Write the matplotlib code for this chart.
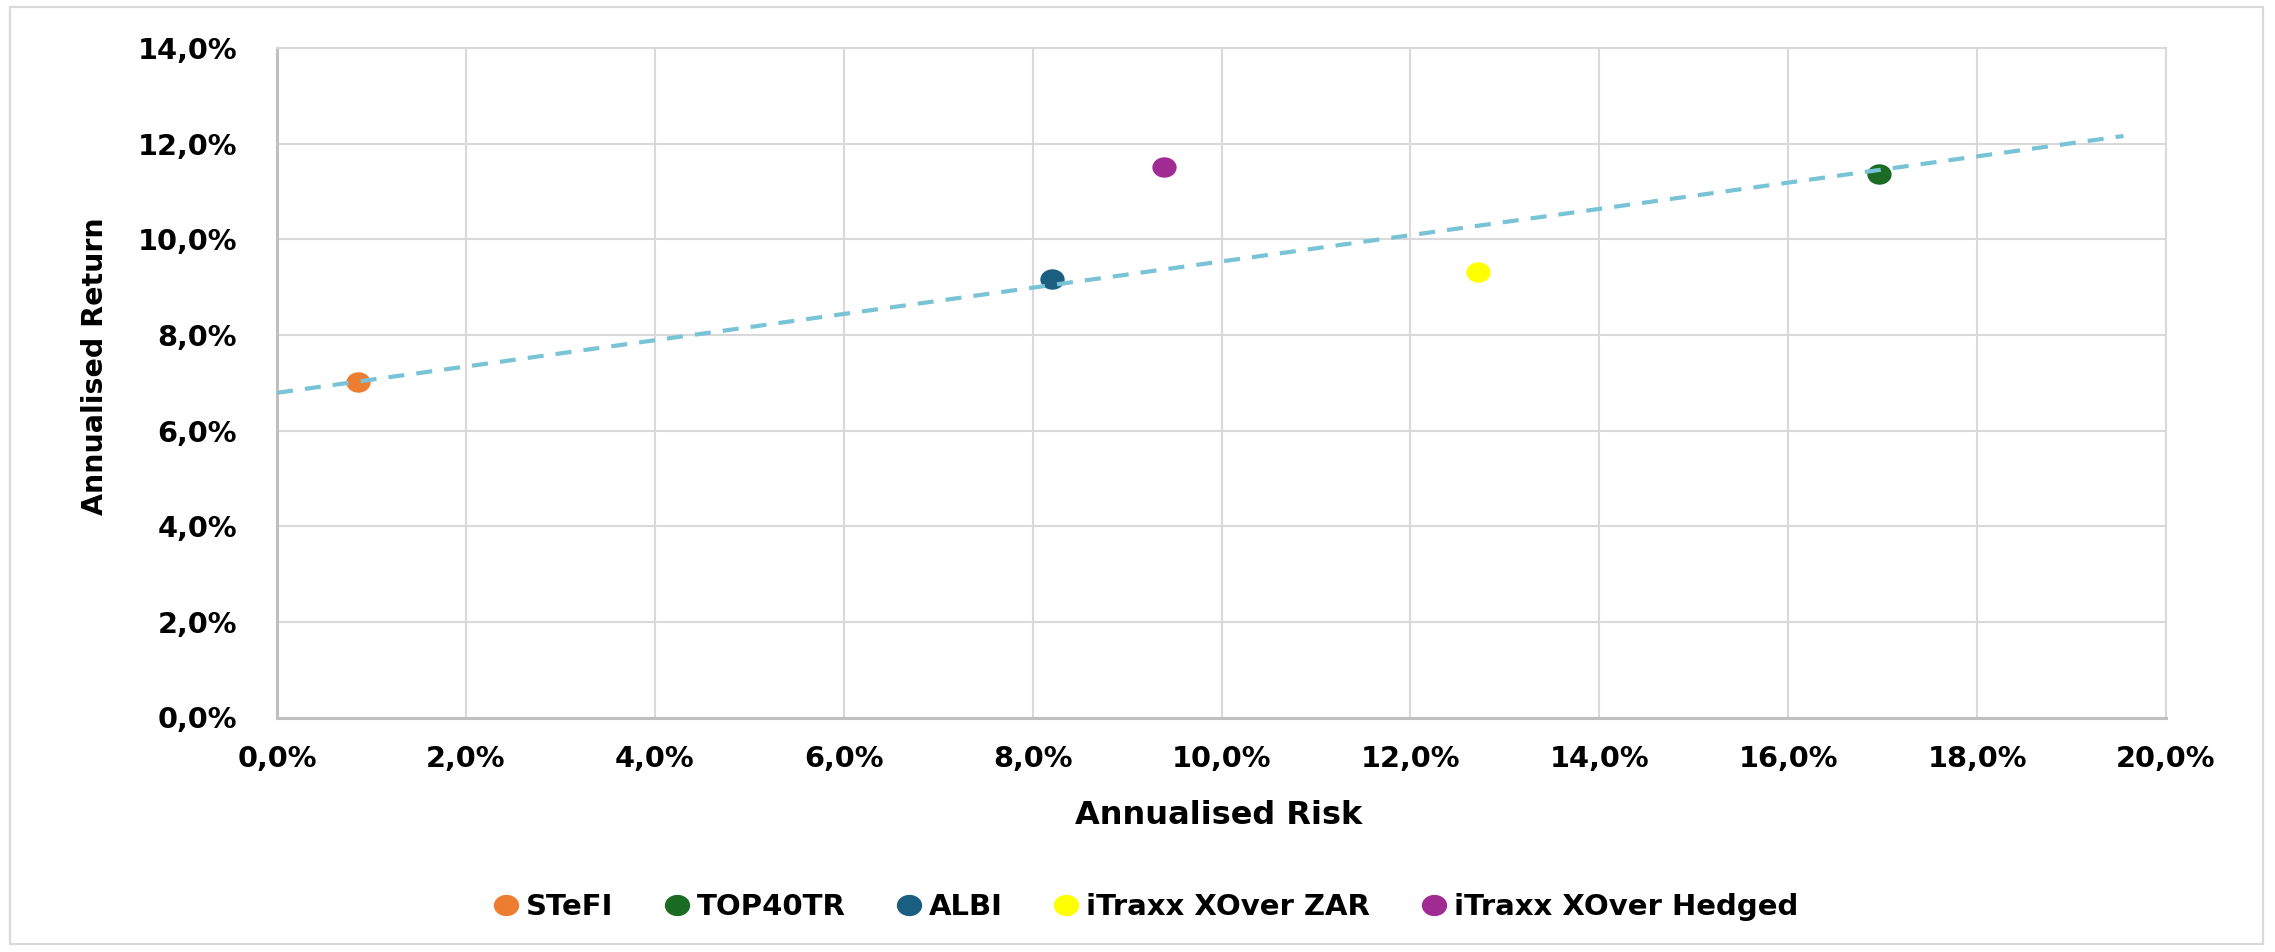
import matplotlib
matplotlib.use("Agg")
import matplotlib.pyplot as plt
from matplotlib.path import Path
from matplotlib.patches import Rectangle
from matplotlib.transforms import Affine2D
from matplotlib.ticker import FuncFormatter, MultipleLocator

# ---------------- data (percent) ----------------
series_names = ["STeFI", "TOP40TR", "ALBI", "iTraxx XOver ZAR", "iTraxx XOver Hedged"]
risk = [0.86, 16.96, 8.21, 12.72, 9.39]          # annualised risk (%)
ret = [7.02, 11.37, 9.17, 9.32, 11.51]           # annualised return (%)
colors = ["#ED7D31", "#1B6B24", "#1A5F82", "#FFFF00", "#A02B93"]

trend_x = [0.0, 19.55]
trend_y = [6.79, 12.16]

x_label = "Annualised Risk"
y_label = "Annualised Return"

# ---------------- figure ----------------
W, H = 2275, 952
DPI = 100
fig = plt.figure(figsize=(W / DPI, H / DPI), dpi=DPI)
fig.patch.set_facecolor("white")

plt.rcParams["font.family"] = ["DejaVu Sans"]

left, right, top, bottom = 277, 2166, 48, 717.5
ax = fig.add_axes([left / W, 1 - bottom / H, (right - left) / W, (bottom - top) / H])

# ellipse marker (slightly wider than tall)
ell = Path.unit_circle().transformed(Affine2D().scale(1.0, 0.84))

handles = []
for name, xv, yv, c in zip(series_names, risk, ret, colors):
    h, = ax.plot([xv], [yv], linestyle="none", marker=ell, markersize=17.5,
                 markerfacecolor=c, markeredgecolor=c, markeredgewidth=0,
                 label=name, zorder=3)
    handles.append(h)

tl, = ax.plot(trend_x, trend_y, color="#78C3D6", linewidth=3.0, zorder=4,
              solid_capstyle="butt", dash_capstyle="butt")
tl.set_dashes((3.85, 2.9))

ax.set_xlim(0, 20)
ax.set_ylim(0, 14)
ax.xaxis.set_major_locator(MultipleLocator(2))
ax.yaxis.set_major_locator(MultipleLocator(2))
fmt = FuncFormatter(lambda v, p: f"{v:.1f}%".replace(".", ","))
ax.xaxis.set_major_formatter(fmt)
ax.yaxis.set_major_formatter(fmt)

ax.grid(True, color="#D9D9D9", linewidth=1.5, zorder=0)
ax.set_axisbelow(True)
for s in ("left", "bottom"):
    ax.spines[s].set_color("#BFBFBF")
    ax.spines[s].set_linewidth(2.2)
for s in ("top", "right"):
    ax.spines[s].set_color("#D9D9D9")
    ax.spines[s].set_linewidth(1.5)

ax.tick_params(axis="both", length=0, labelsize=20.7, colors="black")
ax.tick_params(axis="x", pad=19.5)
ax.tick_params(axis="y", pad=28.8)
for lab in ax.get_xticklabels() + ax.get_yticklabels():
    lab.set_fontweight("bold")

# axis titles
fig.text(1219 / W, 1 - 824 / H, x_label, ha="center", va="baseline",
         fontsize=23, fontweight="bold", color="black")
fig.text(95 / W, 1 - 366 / H, y_label, ha="center", va="center", rotation=90,
         fontsize=20.5, fontweight="bold", color="black")

# legend
fig.legend(handles, series_names, loc="center", bbox_to_anchor=(1146 / W, 1 - 907 / H),
           ncol=5, frameon=False, prop={"size": 21, "weight": "bold"},
           handlelength=0.8, handletextpad=0.28, columnspacing=1.78,
           markerscale=25 / 24, borderpad=0.2)

# outer chart border
fig.patches.append(Rectangle((10 / W, 1 - 944 / H), (2263 - 10) / W, (944 - 7) / H,
                             transform=fig.transFigure, fill=False,
                             edgecolor="#D9D9D9", linewidth=1.6))

fig.savefig("out.png", dpi=DPI, facecolor="white")
